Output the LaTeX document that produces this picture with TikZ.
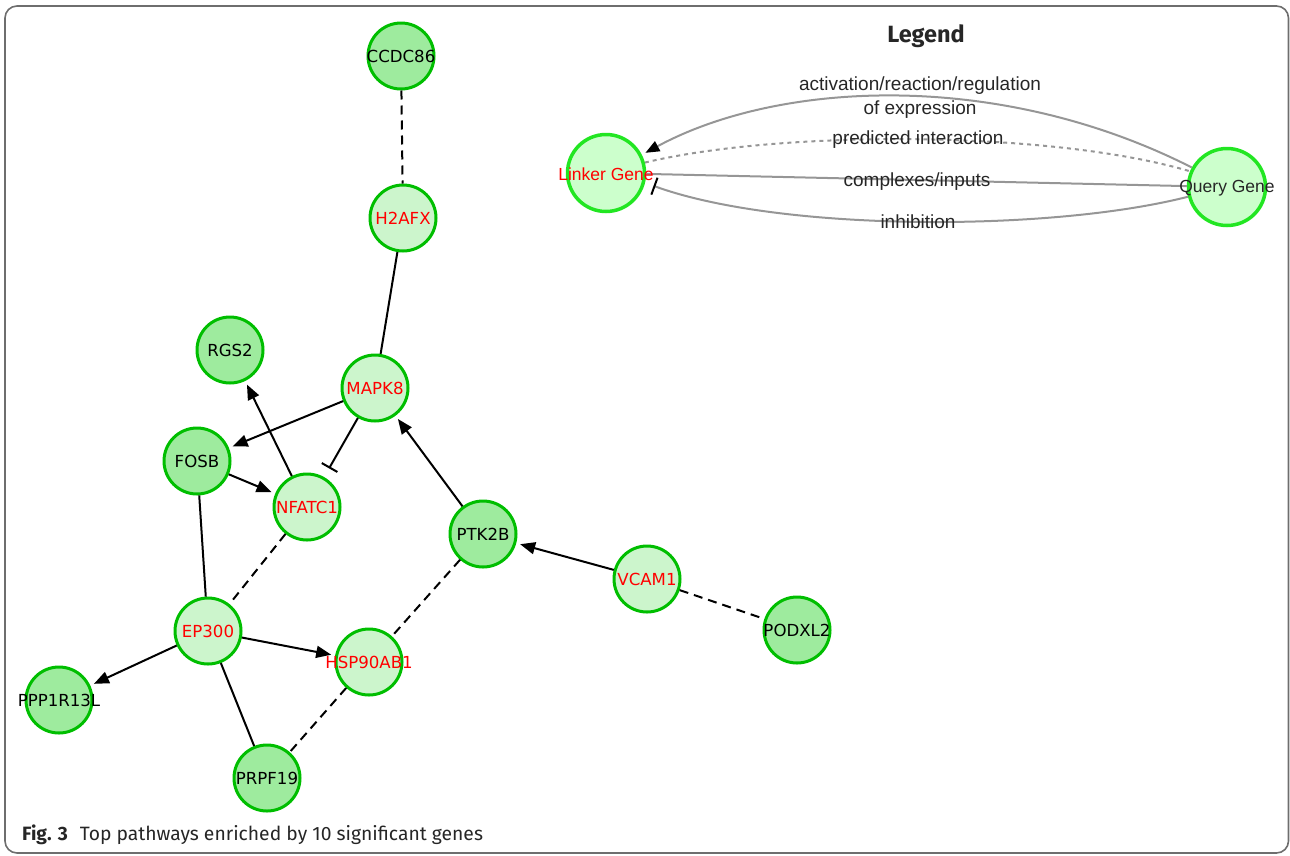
\documentclass[tikz,border=0pt]{standalone}
\usepackage{fontspec}
\usetikzlibrary{arrows.meta}
\newfontfamily\genefont{DejaVu Sans}
\newfontfamily\legfont{Liberation Sans}
\newfontfamily\capfont{Fira Sans}
\newcommand\gl[1]{\makebox[0pt]{#1}}
\definecolor{nodegreen}{RGB}{0,190,0}
\definecolor{darkfill}{RGB}{158,235,158}
\definecolor{lightfill}{RGB}{204,245,204}
\definecolor{legborder}{RGB}{34,230,34}
\definecolor{legfill}{RGB}{204,255,204}
\definecolor{legline}{RGB}{150,150,150}
\definecolor{framegray}{RGB}{110,110,110}
\definecolor{genered}{RGB}{255,0,0}
\tikzset{
  gene/.style={circle, draw=nodegreen, line width=3pt, minimum size=66pt, inner sep=0pt,
    font={\genefont\fontsize{16.6}{18}\selectfont}},
  qgene/.style={gene, fill=darkfill, text=black},
  lgene/.style={gene, fill=lightfill, text=genered},
  act/.style={draw=black, line width=2pt, -{Triangle[length=15pt,width=12pt]}, shorten >=4pt},
  cpx/.style={draw=black, line width=2pt},
  pred/.style={draw=black, line width=2pt, dash pattern=on 9pt off 6pt},
  inh/.style={draw=black, line width=2pt, -{Bar[width=18pt,line width=2pt]}, shorten >=10pt},
  legnode/.style={circle, draw=legborder, line width=3.5pt, fill=legfill, minimum size=77pt, inner sep=0pt,
    font={\legfont\fontsize{17.5}{19}\selectfont}},
  legedge/.style={draw=legline, line width=2pt},
  leglabel/.style={font={\legfont\fontsize{19}{21}\selectfont}, text=black!85, inner sep=0pt},
}
\begin{document}
\begin{tikzpicture}[x=1pt,y=-1pt]
\useasboundingbox (0,0) rectangle (1290,855);
\draw[framegray, line width=1.6pt, rounded corners=12pt] (5,6) rectangle (1288.5,853);

% nodes
\node[qgene] (ccdc) at (401,56) {\gl{CCDC86}};
\node[lgene] (h2afx) at (403,218) {\gl{H2AFX}};
\node[qgene] (rgs2) at (230,350) {\gl{RGS2}};
\node[lgene] (mapk8) at (375,388) {\gl{MAPK8}};
\node[qgene] (fosb) at (197,461) {\gl{FOSB}};
\node[lgene] (nfatc1) at (307,507) {\gl{NFATC1}};
\node[qgene] (ptk2b) at (483,534) {\gl{PTK2B}};
\node[lgene] (vcam1) at (647,579) {\gl{VCAM1}};
\node[qgene] (podxl2) at (797,630) {\gl{PODXL2}};
\node[lgene] (ep300) at (208,631) {\gl{EP300}};
\node[lgene] (hsp) at (369,662) {\gl{HSP90AB1}};
\node[qgene] (ppp) at (59,700) {\gl{PPP1R13L}};
\node[qgene] (prpf19) at (267,778) {\gl{PRPF19}};

% edges
\draw[pred] (ccdc) -- (h2afx);
\draw[cpx] (h2afx) -- (mapk8);
\draw[act] (mapk8) -- (fosb);
\draw[inh] (mapk8) -- (nfatc1);
\draw[act] (nfatc1) -- (rgs2);
\draw[act] (fosb) -- (nfatc1);
\draw[cpx] (fosb) -- (ep300);
\draw[pred] (nfatc1) -- (ep300);
\draw[act] (ptk2b) -- (mapk8);
\draw[act] (vcam1) -- (ptk2b);
\draw[pred] (vcam1) -- (podxl2);
\draw[pred] (ptk2b) -- (hsp);
\draw[act] (ep300) -- (hsp);
\draw[act] (ep300) -- (ppp);
\draw[cpx] (ep300) -- (prpf19);
\draw[pred] (hsp) -- (prpf19);

% legend
\node[font={\capfont\bfseries\fontsize{23.5}{26}\selectfont}, text=black!85, inner sep=0pt] (legtitle) at (926,36) {Legend};
\node[legnode] (lk) at (606,173) {};
\node[legnode] (qg) at (1227,187) {};
\draw[legedge, -{Triangle[length=14pt,width=11pt,color=black]}, shorten >=4pt] (qg.151) .. controls (1000,70) and (780,80) .. (lk.27);
\draw[legedge, dash pattern=on 4pt off 4pt] (lk.15) .. controls (780,130) and (1050,130) .. (qg.157);
\draw[legedge] (lk) -- (qg);
\draw[legedge, -{Bar[width=18pt,line width=2pt,color=black]}, shorten >=9pt] (qg.-166) .. controls (1050,232) and (780,232) .. (lk.-14);
\node[font={\legfont\fontsize{17.5}{19}\selectfont}, text=genered, inner sep=0pt] (lktext) at (606,174) {Linker Gene};
\node[font={\legfont\fontsize{17.5}{19}\selectfont}, text=black!85, inner sep=0pt] (qgtext) at (1227,188) {Query Gene};
\node[leglabel] (l1) at (920,86) {activation/reaction/regulation};
\node[leglabel] (l2) at (920,110) {of expression};
\node[leglabel] (l3) at (918,140) {predicted interaction};
\node[leglabel] (l4) at (917,182) {complexes/inputs};
\node[leglabel] (l5) at (918,222) {inhibition};

% caption
\node[anchor=base west, inner sep=0pt, font={\capfont\fontsize{19.3}{22}\selectfont}, text=black!85] (cap) at (22,840)
  {\textbf{Fig. 3}\hspace{12pt}Top pathways enriched by 10 significant genes};
\end{tikzpicture}
\end{document}
